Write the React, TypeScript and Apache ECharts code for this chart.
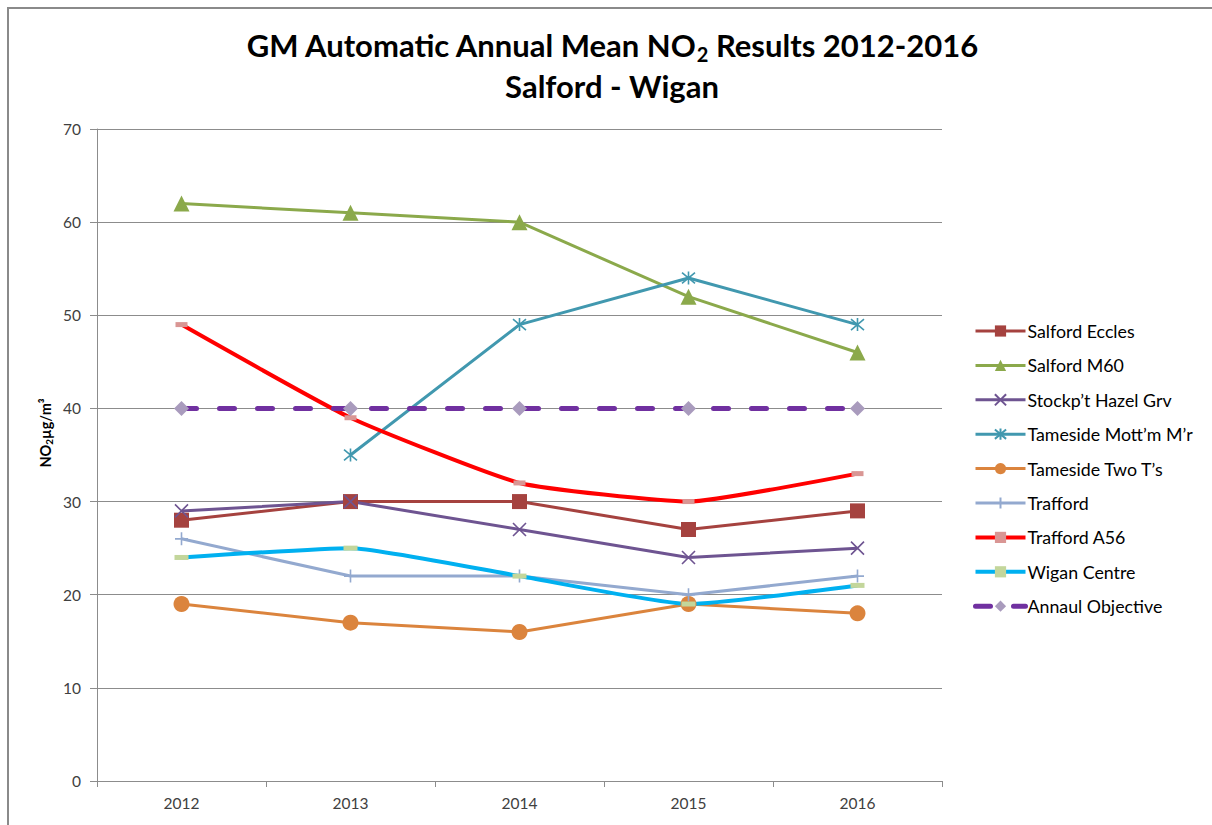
import React, { useEffect, useRef } from "react";
import * as echarts from "echarts";

const years = ["2012", "2013", "2014", "2015", "2016"];
const salfordEccles = [28, 30, 30, 27, 29];
const salfordM60 = [62, 61, 60, 52, 46];
const stockportHazel = [29, 30, 27, 24, 25];
const tamesideMottram = [null, 35, 49, 54, 49];
const tamesideTwoTs = [19, 17, 16, 19, 18];
const trafford = [26, 22, 22, 20, 22];
const traffordA56 = [49, 39, 32, 30, 33];
const wiganCentre = [24, 25, 22, 19, 21];
const annualObjective = [40, 40, 40, 40, 40];

const FONT = "Lato, 'Liberation Sans', sans-serif";

export default function App() {
  const ref = useRef<HTMLDivElement>(null);
  useEffect(() => {
    if (!ref.current) return;
    const chart = echarts.init(ref.current, undefined, { renderer: "svg" });
    const xPath = "path://M0,0L10,10M10,0L0,10";
    const starPath = "path://M0,0L10,10M10,0L0,10M5,-1L5,11";
    const plusPath = "path://M5,0L5,10M0,5L10,5";
    const mk = (name: string, data: any[], color: string, width: number, symbol: string, size: any, symColor: string, stroke: boolean, extra: any = {}) => ({
      name,
      type: "line",
      data,
      symbol,
      symbolSize: size,
      showSymbol: true,
      connectNulls: false,
      lineStyle: { color, width, ...(extra.lineStyle || {}) },
      itemStyle: stroke
        ? { color: "none", borderColor: symColor, borderWidth: 1.6 }
        : { color: symColor, borderWidth: 0 },
      smooth: extra.smooth || false,
      z: extra.z || 2,
    });
    const option: any = {
      animation: false,
      backgroundColor: "#ffffff",
      textStyle: { fontFamily: FONT },
      graphic: [
        {
          type: "text",
          x: 603,
          y: 36,
          style: {
            text: "{a|GM Automatic Annual Mean NO}{s|2}{a| Results 2012-2016}",
            align: "center",
            verticalAlign: "middle",
            rich: {
              a: { fontSize: 31, fontWeight: "bold", fontFamily: FONT, fill: "#000", lineHeight: 38, verticalAlign: "middle" },
              s: { fontSize: 20, fontWeight: "bold", fontFamily: FONT, fill: "#000", lineHeight: 38, verticalAlign: "bottom", padding: [16, 0, 0, 0] },
            },
          },
        },
        {
          type: "text",
          x: 603,
          y: 77,
          style: {
            text: "Salford - Wigan",
            align: "center",
            verticalAlign: "middle",
            fontSize: 31,
            fontWeight: "bold",
            fontFamily: FONT,
            fill: "#000",
          },
        },
        {
          type: "text",
          x: 36,
          y: 424,
          rotation: Math.PI / 2,
          style: {
            text: "{b|NO}{s|2}{b|µg/m³}",
            align: "center",
            verticalAlign: "middle",
            rich: {
              b: { fontSize: 14.5, fontWeight: "bold", fontFamily: FONT, fill: "#000", lineHeight: 18, verticalAlign: "middle" },
              s: { fontSize: 10, fontWeight: "bold", fontFamily: FONT, fill: "#000", lineHeight: 18, verticalAlign: "bottom", padding: [7, 0, 0, 0] },
            },
          },
        },
      ],
      grid: { left: 88, top: 120, width: 845, height: 652, containLabel: false },
      legend: {
        orient: "vertical",
        left: 964,
        top: 313,
        padding: 0,
        itemWidth: 50,
        itemHeight: 14,
        itemGap: 16.4,
        lineStyle: { width: "inherit", type: "inherit" },
        textStyle: { fontSize: 17.8, color: "#000", fontFamily: FONT, padding: [0, 0, 0, -3] },
        data: [
          "Salford Eccles",
          "Salford M60",
          "Stockp’t Hazel Grv",
          "Tameside Mott’m M’r",
          "Tameside Two T’s",
          "Trafford",
          "Trafford A56",
          "Wigan Centre",
          "Annaul Objective",
        ],
      },
      xAxis: {
        type: "category",
        data: years,
        boundaryGap: true,
        axisLine: { lineStyle: { color: "#8c8c8c", width: 1 } },
        axisTick: { show: true, length: 6, lineStyle: { color: "#8c8c8c" } },
        axisLabel: { fontSize: 15.5, color: "#404040", margin: 14, fontFamily: FONT },
        splitLine: { show: false },
      },
      yAxis: {
        type: "value",
        min: 0,
        max: 70,
        interval: 10,
        axisLine: { show: true, lineStyle: { color: "#8c8c8c", width: 1 } },
        axisTick: { show: true, length: 7, inside: false, lineStyle: { color: "#8c8c8c" } },
        axisLabel: { fontSize: 15.5, color: "#404040", margin: 16, fontFamily: FONT },
        splitLine: { show: true, lineStyle: { color: "#8c8c8c", width: 1 } },
      },
      series: [
        mk("Salford Eccles", salfordEccles, "#A5423F", 3, "rect", 15, "#A5423F", false),
        mk("Salford M60", salfordM60, "#8BA94B", 3, "triangle", 16, "#8BA94B", false),
        mk("Stockp’t Hazel Grv", stockportHazel, "#6E5491", 3, xPath, 13, "#6E5491", true),
        mk("Tameside Mott’m M’r", tamesideMottram, "#4198AF", 3, starPath, 13, "#4198AF", true),
        mk("Tameside Two T’s", tamesideTwoTs, "#DB843D", 3, "circle", 16, "#DB843D", false),
        mk("Trafford", trafford, "#93A9CF", 3, plusPath, 13, "#93A9CF", true),
        mk("Trafford A56", traffordA56, "#FF0000", 4, "rect", [12, 5], "#D99694", false, { smooth: 0.15 }),
        mk("Wigan Centre", wiganCentre, "#00B0F0", 4, "rect", [14, 5], "#C3D69B", false, { smooth: 0.15 }),
        mk("Annaul Objective", annualObjective, "#7030A0", 5, "diamond", 15, "#A99BBD", false, {
          lineStyle: { type: [15, 23], cap: "round" },
          z: 3,
        }),
      ],
    };
    chart.setOption(option);
    return () => chart.dispose();
  }, []);
  return (
    <div
      style={{
        position: "fixed",
        left: 7,
        top: 7,
        width: 1205,
        height: 818,
        borderTop: "2px solid #8a8a8a",
        borderLeft: "2px solid #8a8a8a",
        boxSizing: "border-box",
        background: "#fff",
      }}
    >
      <div ref={ref} style={{ width: 1203, height: 816 }} />
    </div>
  );
}
